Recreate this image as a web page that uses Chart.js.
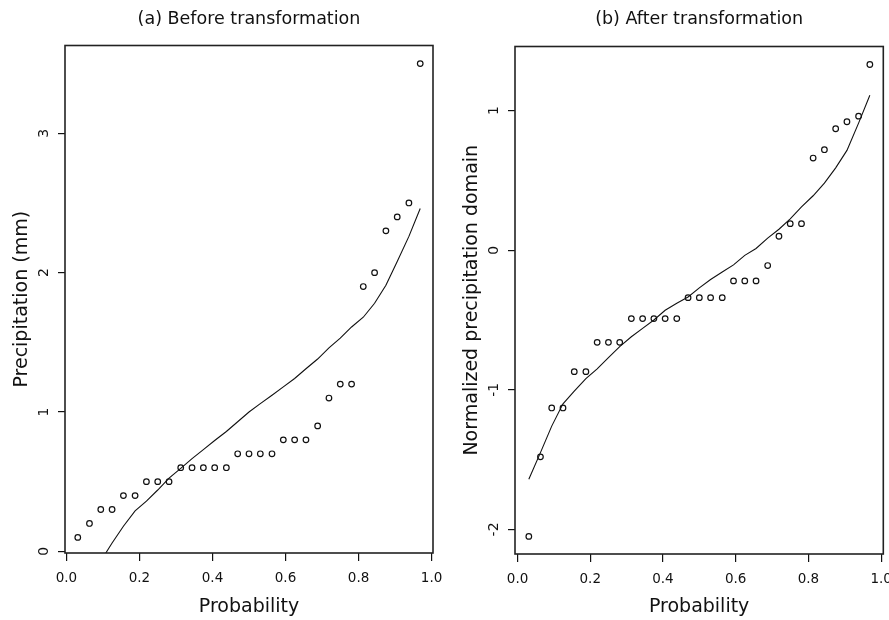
<!DOCTYPE html>
<html>
<head>
<meta charset="utf-8">
<script src="https://cdn.jsdelivr.net/npm/chart.js@4/dist/chart.umd.min.js"></script>
<style>
  html, body { margin: 0; padding: 0; background: #ffffff; }
  #wrap { position: relative; width: 889px; height: 620px; overflow: hidden; background: #ffffff; }
  .panel { position: absolute; top: 0; }
</style>
</head>
<body>
<div id="wrap">
  <canvas id="chartA" class="panel" style="left:0px" width="450" height="620"></canvas>
  <canvas id="chartB" class="panel" style="left:450px" width="439" height="620"></canvas>
</div>
<script>
// ---------------- data ----------------
const probability = [0.031, 0.063, 0.094, 0.125, 0.156, 0.188, 0.219, 0.250, 0.281, 0.313,
                     0.344, 0.375, 0.406, 0.438, 0.469, 0.500, 0.531, 0.563, 0.594, 0.625,
                     0.656, 0.688, 0.719, 0.750, 0.781, 0.813, 0.844, 0.875, 0.906, 0.938, 0.969];

// (a) before transformation: observed precipitation (mm) and fitted quantile curve
const precipObserved = [0.1, 0.2, 0.3, 0.3, 0.4, 0.4, 0.5, 0.5, 0.5, 0.6,
                        0.6, 0.6, 0.6, 0.6, 0.7, 0.7, 0.7, 0.7, 0.8, 0.8,
                        0.8, 0.9, 1.1, 1.2, 1.2, 1.9, 2.0, 2.3, 2.4, 2.5, 3.5];
const precipFitted = [null, null, -0.07, 0.06, 0.18, 0.29, 0.36, 0.44, 0.525, 0.595,
                      0.665, 0.73, 0.795, 0.86, 0.93, 1.0, 1.06, 1.12, 1.18, 1.24,
                      1.31, 1.38, 1.46, 1.53, 1.61, 1.68, 1.78, 1.91, 2.08, 2.26, 2.46];

// (b) after transformation: normalized values and fitted curve
const normObserved = [-2.05, -1.48, -1.13, -1.13, -0.87, -0.87, -0.66, -0.66, -0.66, -0.49,
                      -0.49, -0.49, -0.49, -0.49, -0.34, -0.34, -0.34, -0.34, -0.22, -0.22,
                      -0.22, -0.11, 0.10, 0.19, 0.19, 0.66, 0.72, 0.87, 0.92, 0.96, 1.33];
const normFitted = [-1.64, -1.45, -1.26, -1.10, -1.01, -0.92, -0.85, -0.77, -0.69, -0.62,
                    -0.56, -0.50, -0.43, -0.38, -0.335, -0.27, -0.21, -0.156, -0.105, -0.037,
                    0.012, 0.086, 0.15, 0.225, 0.31, 0.39, 0.48, 0.59, 0.715, 0.91, 1.11];

// tick labels
const probTicks = [0.0, 0.2, 0.4, 0.6, 0.8, 1.0];
const precipTicks = [0, 1, 2, 3];
const normTicks = [-2, -1, 0, 1];

// texts
const panelTitles = ['(a) Before transformation', '(b) After transformation'];
const xAxisTitle = 'Probability';
const yAxisTitles = ['Precipitation (mm)', 'Normalized precipitation domain'];

// ---------------- styling helpers ----------------
const FONT = "'DejaVu Sans', 'Liberation Sans', sans-serif";
const INK = '#111111';

function toPoints(xs, ys) {
  return xs.map((x, i) => ({ x: x, y: ys[i] })).filter(p => p.y !== null);
}

const frameBox = {
  id: 'frameBox',
  afterDatasetsDraw(chart) {
    const { ctx, chartArea: a } = chart;
    ctx.save();
    ctx.strokeStyle = '#222222';
    ctx.lineWidth = 1.6;
    ctx.strokeRect(a.left, a.top, a.right - a.left, a.bottom - a.top);
    ctx.restore();
  }
};

const rotatedYLabels = {
  id: 'rotatedYLabels',
  afterDraw(chart, args, opts) {
    const s = chart.scales.y;
    const ctx = chart.ctx;
    ctx.save();
    ctx.font = '14px ' + FONT;
    ctx.fillStyle = INK;
    ctx.textAlign = 'center';
    ctx.textBaseline = 'middle';
    s.ticks.forEach(t => {
      const y = s.getPixelForValue(t.value);
      ctx.save();
      ctx.translate(opts.x, y);
      ctx.rotate(-Math.PI / 2);
      ctx.fillText(String(t.value), 0, 0);
      ctx.restore();
    });
    ctx.restore();
  }
};

function makePanel(canvasId, cfg) {
  return new Chart(document.getElementById(canvasId), {
    type: 'scatter',
    data: {
      datasets: [
        {
          data: toPoints(probability, cfg.fitted),
          showLine: true,
          borderColor: INK,
          borderWidth: 1.1,
          pointRadius: 0,
          tension: 0,
          fill: false
        },
        {
          data: toPoints(probability, cfg.observed),
          showLine: false,
          pointStyle: 'circle',
          pointRadius: 2.8,
          pointBorderWidth: 1.2,
          borderColor: INK,
          backgroundColor: 'rgba(255,255,255,0)'
        }
      ]
    },
    options: {
      responsive: false,
      animation: false,
      events: [],
      layout: { padding: { left: 0, right: cfg.padRight, top: 0, bottom: 0 } },
      plugins: {
        legend: { display: false },
        tooltip: { enabled: false },
        title: {
          display: true,
          text: cfg.title,
          fullSize: false,
          color: INK,
          font: { family: FONT, size: 17.5, weight: 'normal' },
          padding: { top: 8.5, bottom: cfg.titleBottom }
        },
        rotatedYLabels: { x: 44 }
      },
      scales: {
        x: {
          type: 'linear',
          min: cfg.xMin,
          max: cfg.xMax,
          afterBuildTicks: s => { s.ticks = probTicks.map(v => ({ value: v })); },
          afterFit: s => { s.height = cfg.xHeight; s.paddingLeft = 0; s.paddingRight = 0; },
          grid: { drawOnChartArea: false, drawTicks: true, tickLength: 8, color: INK, tickColor: INK, lineWidth: 1.2 },
          border: { display: false },
          ticks: {
            color: INK,
            font: { family: FONT, size: 13.5 },
            padding: 9,
            minRotation: 0,
            maxRotation: 0,
            autoSkip: false,
            callback: v => Number(v).toFixed(1)
          },
          title: {
            display: true,
            text: xAxisTitle,
            color: INK,
            font: { family: FONT, size: 19, weight: 'normal' },
            padding: { top: 0, bottom: 2 }
          }
        },
        y: {
          type: 'linear',
          min: cfg.yMin,
          max: cfg.yMax,
          afterBuildTicks: s => { s.ticks = cfg.yTicks.map(v => ({ value: v })); },
          afterFit: s => { s.width = 65; s.paddingTop = 0; s.paddingBottom = 0; },
          grid: { drawOnChartArea: false, drawTicks: true, tickLength: 7, color: INK, tickColor: INK, lineWidth: 1.2 },
          border: { display: false },
          ticks: { display: false },
          title: {
            display: true,
            text: cfg.yTitle,
            color: INK,
            font: { family: FONT, size: 19, weight: 'normal' },
            padding: { top: 10.6, bottom: 0 }
          }
        }
      }
    },
    plugins: [frameBox, rotatedYLabels]
  });
}

makePanel('chartA', {
  observed: precipObserved,
  fitted: precipFitted,
  title: panelTitles[0],
  yTitle: yAxisTitles[0],
  yTicks: precipTicks,
  xMin: -0.004, xMax: 1.004,
  yMin: -0.012, yMax: 3.63,
  padRight: 17,
  titleBottom: 16.0,
  xHeight: 67
});

makePanel('chartB', {
  observed: normObserved,
  fitted: normFitted,
  title: panelTitles[1],
  yTitle: yAxisTitles[1],
  yTicks: normTicks,
  xMin: -0.007, xMax: 1.006,
  yMin: -2.176, yMax: 1.459,
  padRight: 5.7,
  titleBottom: 17.0,
  xHeight: 66
});
</script>
</body>
</html>
